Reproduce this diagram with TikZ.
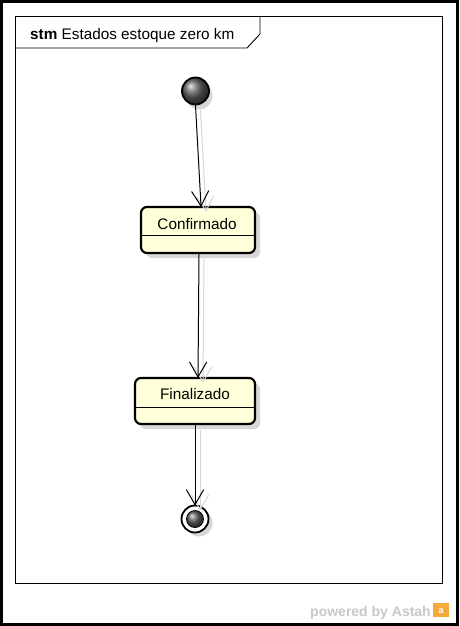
\documentclass[tikz,border=0pt]{standalone}
\usepackage{fontspec}
\setmainfont{Liberation Sans}
\usetikzlibrary{calc,shadows}
\definecolor{stfill}{RGB}{255,255,218}
\definecolor{shad}{RGB}{215,215,215}
\definecolor{astahgray}{RGB}{200,200,200}
\definecolor{astahorange}{RGB}{245,170,60}
\tikzset{
  statebox/.style={draw=black, line width=2.2pt, rounded corners=6pt, fill=stfill,
    drop shadow={shadow xshift=5pt, shadow yshift=-5pt, fill=shad, opacity=1}},
  lbl/.style={font=\fontsize{15.3}{18}\selectfont, inner sep=0pt},
  trans/.style={line width=1pt, line cap=round, line join=round},
  transshadow/.style={trans, draw=shad, transform canvas={xshift=5pt,yshift=-5pt}},
}
\newcommand{\transline}[3]{% style, start, end
  \draw[#1] (#2) -- (#3);
  \draw[#1] ($(#3)!17pt!30:(#2)$) -- (#3) -- ($(#3)!17pt!-30:(#2)$);
}
\begin{document}
\begin{tikzpicture}[x=1pt,y=-1pt]
\useasboundingbox (0,0) rectangle (459,626);
\fill[white] (0,0) rectangle (459,626);
\draw[line width=3pt] (1.5,1.5) rectangle (457.5,624.5);
% frame
\draw[line width=0.9pt] (15,16) rectangle (442,583);
\draw[line width=0.9pt] (15,48) -- (247,48) -- (260,34) -- (260,16);
\node[lbl, anchor=base west] (title) at (30,40) {\textbf{stm} Estados estoque zero km};
% initial
\fill[shad] (199,96) circle (13.5);
\node[circle, minimum size=27pt, inner sep=0pt, draw=black, line width=1.8pt, shading=ball, ball color=gray!75!black] (init) at (195.5,91) {};
% states
\node[statebox, minimum width=114pt, minimum height=46pt] (conf) at (198,230) {};
\draw[line width=0.9pt] (conf.west |- 0,235) -- (conf.east |- 0,235);
\node[lbl] (conft) at (197,224) {Confirmado};
\node[statebox, minimum width=120pt, minimum height=46pt] (fin) at (195,401) {};
\draw[line width=0.9pt] (fin.west |- 0,407) -- (fin.east |- 0,407);
\node[lbl] (fint) at (195,394) {Finalizado};
% final
\fill[shad] (199,523) circle (13.5);
\node[circle, minimum size=27pt, inner sep=0pt, draw=black, line width=1.8pt, fill=white] (final) at (195,519) {};
\node[circle, minimum size=17pt, inner sep=0pt, draw=black, line width=0.8pt, shading=ball, ball color=gray!75!black] (finalin) at (195,519) {};
% connector end points
\coordinate (a1) at (init.south);
\coordinate (b1) at ([xshift=3pt]conf.north);
\coordinate (a2) at ([xshift=1pt]conf.south);
\coordinate (b2) at ([xshift=3pt]fin.north);
\coordinate (a3) at (fin.south);
\coordinate (b3) at (final.north);
% transitions shadows
\transline{transshadow}{a1}{b1}
\transline{transshadow}{a2}{b2}
\transline{transshadow}{a3}{b3}
% transitions
\transline{trans}{a1}{b1}
\transline{trans}{a2}{b2}
\transline{trans}{a3}{b3}
% powered by
\node[font=\bfseries\fontsize{14}{16}\selectfont, text=astahgray, anchor=base east, inner sep=0pt] (pow) at (431,616) {powered by Astah};
\fill[astahorange] (433,603) rectangle (449,617);
\node[font=\bfseries\fontsize{9}{9}\selectfont, text=white, inner sep=0pt] (alogo) at (441,611) {a};
\end{tikzpicture}
\end{document}
